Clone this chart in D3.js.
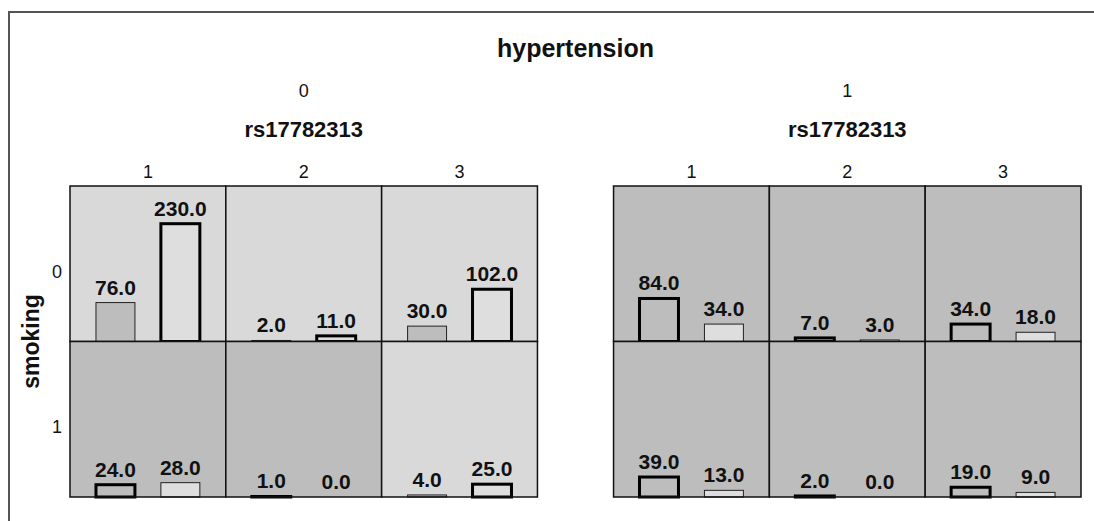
<!DOCTYPE html>
<html>
<head>
<meta charset="utf-8">
<script src="https://cdn.jsdelivr.net/npm/d3@7/dist/d3.min.js"></script>
<style>
  html, body { margin: 0; padding: 0; background: #fff; }
  svg { display: block; }
  text { font-family: "Liberation Sans", Arial, Helvetica, sans-serif; fill: #111; }
</style>
</head>
<body>
<svg id="chart" width="1094" height="521"></svg>
<script>
// ---- data ----
const panelTitle = "hypertension";
const panelLevels = ["0", "1"];           // hypertension
const columnTitle = "rs17782313";
const columnLevels = ["1", "2", "3"];     // rs17782313
const rowTitle = "smoking";
const rowLevels = ["0", "1"];             // smoking
const barKeys = ["first", "second"];      // two bars per cell

// cell keys (hypertension, smoking, rs17782313) in reading order
const cellPanel  = ["0","0","0","0","0","0","1","1","1","1","1","1"];
const cellRow    = ["0","0","0","1","1","1","0","0","0","1","1","1"];
const cellColumn = ["1","2","3","1","2","3","1","2","3","1","2","3"];
const firstValues  = [76, 2, 30, 24, 1, 4, 84, 7, 34, 39, 2, 19];
const secondValues = [230, 11, 102, 28, 0, 25, 34, 3, 18, 13, 0, 9];

// ---- layout ----
const svg = d3.select("#chart");
const W = 1094, H = 521;

const panelX = d3.scaleBand().domain(panelLevels).range([70, 1081]).paddingInner(0.14).paddingOuter(0);
const colX = d3.scaleBand().domain(columnLevels).range([0, panelX.bandwidth()]).padding(0);
const rowY = d3.scaleBand().domain(rowLevels).range([186, 497]).padding(0);
const barX = d3.scaleBand().domain(barKeys).range([0, colX.bandwidth()]).paddingInner(0.4).paddingOuter(0.4);
const maxVal = d3.max(firstValues.concat(secondValues));
const yVal = d3.scaleLinear().domain([0, maxVal * 1.32]).range([rowY.bandwidth(), 0]);

// overall ratio between the two bars decides cell shading / emphasis
const totalFirst = d3.sum(firstValues), totalSecond = d3.sum(secondValues);
const overallRatio = totalSecond / totalFirst;

const cells = cellPanel.map((p, i) => {
  const high = secondValues[i] / Math.max(firstValues[i], 1e-9) > overallRatio;
  return { panel: p, row: cellRow[i], col: cellColumn[i],
           values: [firstValues[i], secondValues[i]], high };
});

// outer frame
svg.append("rect").attr("x", 0).attr("y", 0).attr("width", W).attr("height", H).attr("fill", "#fff");
svg.append("path").attr("d", `M9,${H + 5} V12 H${W + 5}`)
  .attr("fill", "none").attr("stroke", "#555").attr("stroke-width", 2);

const LIGHT_BG = "#d9d9d9", DARK_BG = "#bdbdbd";
const FIRST_FILL = "#bdbdbd", SECOND_FILL = "#dedede";

const g = svg.append("g");

// cells
const cellG = g.selectAll("g.cell").data(cells).join("g")
  .attr("class", "cell")
  .attr("transform", d => `translate(${panelX(d.panel) + colX(d.col)},${rowY(d.row)})`);

cellG.append("rect")
  .attr("width", colX.bandwidth()).attr("height", rowY.bandwidth())
  .attr("fill", d => d.high ? LIGHT_BG : DARK_BG)
  .attr("stroke", "none");

const bars = cellG.selectAll("g.bar").data(d => d.values.map((v, j) => ({
  key: barKeys[j], v, emph: d.high ? j === 1 : j === 0
}))).join("g").attr("class", "bar");

bars.filter(d => d.v > 0).append("rect")
  .attr("x", d => barX(d.key))
  .attr("y", d => yVal(d.v))
  .attr("width", barX.bandwidth())
  .attr("height", d => rowY.bandwidth() - yVal(d.v))
  .attr("fill", d => d.key === "first" ? FIRST_FILL : SECOND_FILL)
  .attr("stroke", d => d.emph ? "#000" : "#222")
  .attr("stroke-width", d => d.emph ? 3 : 1);

bars.append("text")
  .attr("x", d => barX(d.key) + barX.bandwidth() / 2)
  .attr("y", d => yVal(d.v) - 8)
  .attr("text-anchor", "middle")
  .attr("font-weight", "bold")
  .attr("font-size", 21)
  .text(d => d3.format(".1f")(d.v));

// cell grid lines on top
cellG.append("rect")
  .attr("width", colX.bandwidth()).attr("height", rowY.bandwidth())
  .attr("fill", "none").attr("stroke", "#111").attr("stroke-width", 1.5);

// titles
const fullCenter = (panelX.range()[0] + panelX.range()[1]) / 2;
svg.append("text").attr("x", fullCenter).attr("y", 57)
  .attr("text-anchor", "middle").attr("font-weight", "bold").attr("font-size", 25)
  .text(panelTitle);

const pg = svg.selectAll("g.panelHead").data(panelLevels).join("g")
  .attr("transform", d => `translate(${panelX(d)},0)`);
pg.append("text").attr("x", panelX.bandwidth() / 2).attr("y", 97)
  .attr("text-anchor", "middle").attr("font-size", 18).text(d => d);
pg.append("text").attr("x", panelX.bandwidth() / 2).attr("y", 137)
  .attr("text-anchor", "middle").attr("font-weight", "bold").attr("font-size", 22).text(columnTitle);
pg.selectAll("text.col").data(columnLevels).join("text").attr("class", "col")
  .attr("x", d => colX(d) + colX.bandwidth() / 2).attr("y", 178)
  .attr("text-anchor", "middle").attr("font-size", 18).text(d => d);

// row labels
svg.append("text")
  .attr("transform", `translate(39,${(rowY.range()[0] + rowY.range()[1]) / 2}) rotate(-90)`)
  .attr("text-anchor", "middle").attr("font-weight", "bold").attr("font-size", 23)
  .text(rowTitle);
svg.selectAll("text.rowlab").data(rowLevels).join("text").attr("class", "rowlab")
  .attr("x", 62).attr("y", d => rowY(d) + rowY.bandwidth() / 2 + 14)
  .attr("text-anchor", "end").attr("font-size", 18).text(d => d);
</script>
</body>
</html>
